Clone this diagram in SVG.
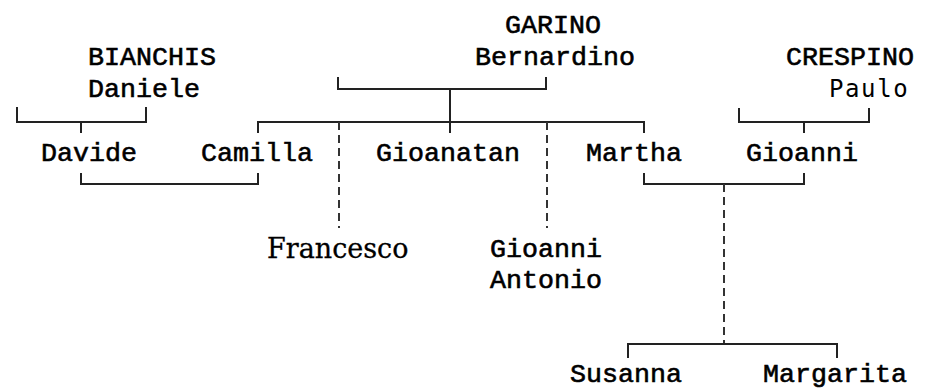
<svg xmlns="http://www.w3.org/2000/svg" width="925" height="389" viewBox="0 0 925 389">
<style>
.t{font-family:"Liberation Mono","DejaVu Sans Mono",monospace;font-size:26.67px;fill:#000;stroke:#000;stroke-width:0.6px}
.s{font-family:"DejaVu Serif","Liberation Serif",serif;font-size:27px;fill:#000;stroke:#000;stroke-width:0.3px}
.p{font-family:"DejaVu Sans Mono","Liberation Mono",monospace;font-size:24px;letter-spacing:1.6px;fill:#000}
.c{fill:none;stroke:#222;stroke-width:2}
.d{fill:none;stroke:#333;stroke-width:2;stroke-dasharray:8 5}
</style>
<rect width="925" height="389" fill="#fff"/>
<g id="connectors">
<path class="c" d="M17,107V122H146V107M81,122V133"/>
<path class="c" d="M81,173V184H258V173"/>
<path class="c" d="M338,77V89H546V77M450,89V133"/>
<path class="c" d="M258,133V122H644V133"/>
<path class="d" d="M339,122V228M547,122V228"/>
<path class="c" d="M739,108V122H869V108M804,122V133"/>
<path class="c" d="M644,173V184H804V173"/>
<path class="d" d="M724,184V343"/>
<path class="c" d="M628,358V344H837V358"/>
</g>
<g id="garino"><text class="t" x="505" y="33">GARINO</text><text class="t" x="475" y="65">Bernardino</text></g>
<g id="bianchis"><text class="t" x="88" y="65">BIANCHIS</text><text class="t" x="88" y="97">Daniele</text></g>
<g id="crespino"><text class="t" x="786" y="65">CRESPINO</text><text class="p" x="829" y="97">Paulo</text></g>
<g id="davide"><text class="t" x="41" y="161">Davide</text></g>
<g id="camilla"><text class="t" x="201" y="161">Camilla</text></g>
<g id="gioanatan"><text class="t" x="376" y="161">Gioanatan</text></g>
<g id="martha"><text class="t" x="586" y="161">Martha</text></g>
<g id="gioanni"><text class="t" x="746" y="161">Gioanni</text></g>
<g id="francesco"><text class="s" x="267" y="258">Francesco</text></g>
<g id="gioanni-antonio"><text class="t" x="490" y="257">Gioanni</text><text class="t" x="490" y="288">Antonio</text></g>
<g id="susanna"><text class="t" x="570" y="382">Susanna</text></g>
<g id="margarita"><text class="t" x="763" y="382">Margarita</text></g>
</svg>
